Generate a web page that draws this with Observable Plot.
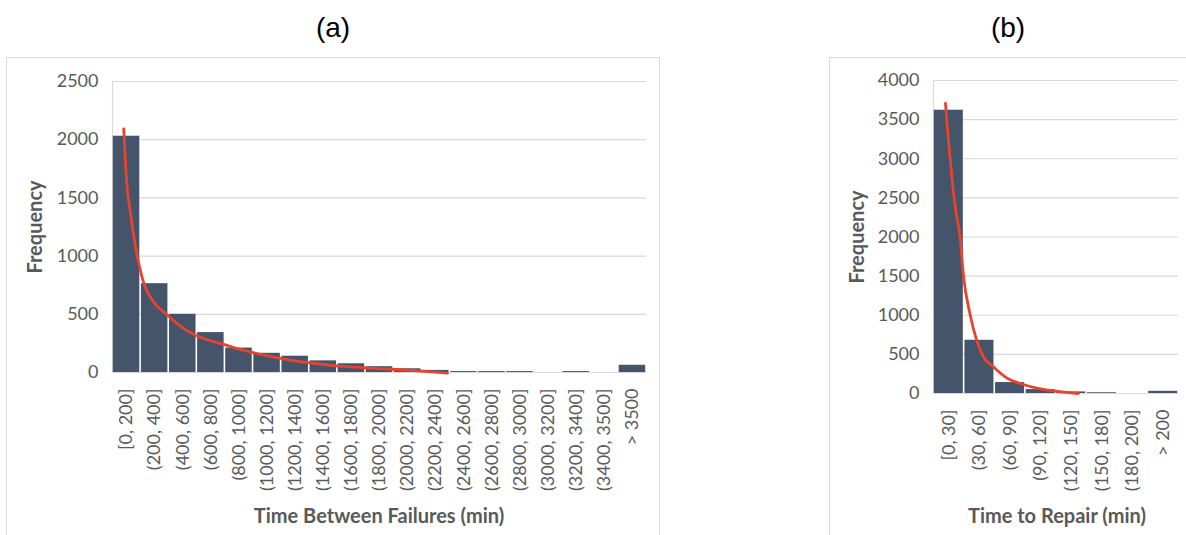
<!DOCTYPE html>
<html>
<head>
<meta charset="utf-8">
<script src="https://cdn.jsdelivr.net/npm/d3@7"></script>
<script src="https://cdn.jsdelivr.net/npm/@observablehq/plot@0.6"></script>
<style>
  html, body { margin: 0; padding: 0; background: #fff; }
  #root { position: relative; width: 1186px; height: 535px; overflow: hidden; background: #fff; }
  .abs { position: absolute; }
  .frame { position: absolute; border: 1px solid #d9d9d9; pointer-events: none; z-index: 5; }
  .ptitle { position: absolute; font-family: "Liberation Sans", Arial, sans-serif; font-size: 28px; color: #000; transform: translate(-50%, -50%); white-space: nowrap; }
  .atitle { position: absolute; font-family: Lato, "Open Sans", sans-serif; font-weight: bold; font-size: 20px; color: #595959; white-space: nowrap; }
</style>
</head>
<body>
<div id="root"></div>
<script>
// ---- Data: (a) Time Between Failures ----
const tbfLabels = ["[0, 200]", "(200, 400]", "(400, 600]", "(600, 800]", "(800, 1000]", "(1000, 1200]",
  "(1200, 1400]", "(1400, 1600]", "(1600, 1800]", "(1800, 2000]", "(2000, 2200]", "(2200, 2400]",
  "(2400, 2600]", "(2600, 2800]", "(2800, 3000]", "(3000, 3200]", "(3200, 3400]", "(3400, 3500]", "> 3500"];
const tbfFreq = [2030, 763, 500, 343, 210, 165, 140, 100, 75, 50, 32, 18, 8, 8, 8, 0, 8, 0, 62];
// fitted curve, position in bin units and frequency
const tbfFitPos  = [0.40, 0.51, 0.66, 0.74, 0.84, 0.96, 1.11, 1.45, 1.93, 2.40, 2.90, 3.40, 3.95, 4.50, 5.00, 5.75, 6.50, 7.25, 8.00, 9.00, 9.94, 11.0, 11.92];
const tbfFitFreq = [2093, 1623, 1338, 1196, 1054, 911, 769, 610, 498, 400, 327, 280, 242, 200, 171, 133, 100, 77, 57, 40, 28, 12, -6];
const tbfTicks = [0, 500, 1000, 1500, 2000, 2500];

// ---- Data: (b) Time to Repair ----
const ttrLabels = ["[0, 30]", "(30, 60]", "(60, 90]", "(90, 120]", "(120, 150]", "(150, 180]", "(180, 200]", "> 200"];
const ttrFreq = [3620, 680, 140, 50, 20, 10, 0, 28];
const ttrFitPos  = [0.39, 0.47, 0.60, 0.71, 0.87, 0.98, 1.20, 1.41, 1.63, 1.96, 2.39, 2.83, 3.37, 3.92, 4.73];
const ttrFitFreq = [3711, 3319, 2766, 2383, 1990, 1500, 1000, 680, 470, 340, 200, 128, 70, 34, 0];
const ttrTicks = [0, 500, 1000, 1500, 2000, 2500, 3000, 3500, 4000];

const BAR = "#44546a", RED = "#e8432b", GRID = "#d9d9d9", TXT = "#595959";

function histPlot({labels, freq, fitPos, fitFreq, ticks, width, height, mL, mR, mT, mB}) {
  const n = labels.length;
  const bars = labels.map((c, i) => ({i, c, v: freq[i]}));
  const fit = fitPos.map((p, k) => ({p, v: fitFreq[k]}));
  const centers = labels.map((c, i) => i + 0.5);
  return Plot.plot({
    width, height,
    marginLeft: mL, marginRight: mR, marginTop: mT, marginBottom: mB,
    style: {fontFamily: "Lato, 'Open Sans', sans-serif", fontSize: "18px", background: "transparent", overflow: "visible"},
    x: {type: "linear", domain: [0, n], axis: null},
    y: {domain: [0, ticks[ticks.length - 1]], axis: null},
    marks: [
      Plot.gridY(ticks, {stroke: GRID, strokeOpacity: 1, strokeWidth: 1.2}),
      Plot.ruleX([0], {stroke: GRID, strokeWidth: 1.2}),
      Plot.rectY(bars, {x1: d => d.i, x2: d => d.i + 1, y: "v", fill: BAR, insetLeft: 0.8, insetRight: 0.8}),
      Plot.line(fit, {x: "p", y: "v", stroke: RED, strokeWidth: 2.8, curve: "monotone-x"}),
      Plot.axisY(ticks, {tickSize: 0, tickPadding: 14, color: TXT, fontSize: 18, label: null, tickFormat: d => String(d)}),
      Plot.axisX(centers, {tickSize: 0, tickPadding: 16, tickRotate: -90, color: TXT, fontSize: 18, label: null,
        tickFormat: d => labels[Math.floor(d)]})
    ]
  });
}

const root = document.getElementById("root");

const pa = histPlot({labels: tbfLabels, freq: tbfFreq, fitPos: tbfFitPos, fitFreq: tbfFitFreq, ticks: tbfTicks,
  width: 680, height: 535, mL: 112, mR: 34, mT: 81, mB: 163});
pa.classList.add("abs"); pa.style.left = "0px"; pa.style.top = "0px";
root.appendChild(pa);

const pb = histPlot({labels: ttrLabels, freq: ttrFreq, fitPos: ttrFitPos, fitFreq: ttrFitFreq, ticks: ttrTicks,
  width: 366, height: 535, mL: 113, mR: 8, mT: 80, mB: 142});
pb.classList.add("abs"); pb.style.left = "820px"; pb.style.top = "0px";
root.appendChild(pb);

function addDiv(cls, text, css) {
  const d = document.createElement("div");
  d.className = cls; d.textContent = text;
  Object.assign(d.style, css);
  root.appendChild(d);
  return d;
}
// frames
addDiv("frame", "", {left: "6px", top: "57px", width: "652px", height: "520px"});
addDiv("frame", "", {left: "829px", top: "57px", width: "420px", height: "520px"});
// panel titles
addDiv("ptitle", "(a)", {left: "333px", top: "28px"});
addDiv("ptitle", "(b)", {left: "1008px", top: "28px"});
// axis titles
addDiv("atitle", "Frequency", {left: "34px", top: "227px", transform: "translate(-50%, -50%) rotate(-90deg)"});
addDiv("atitle", "Frequency", {left: "856px", top: "237px", transform: "translate(-50%, -50%) rotate(-90deg)"});
addDiv("atitle", "Time Between Failures (min)", {left: "379px", top: "515px", transform: "translate(-50%, -50%)"});
addDiv("atitle", "Time to Repair (min)", {left: "1057px", top: "515px", transform: "translate(-50%, -50%)"});
</script>
</body>
</html>
